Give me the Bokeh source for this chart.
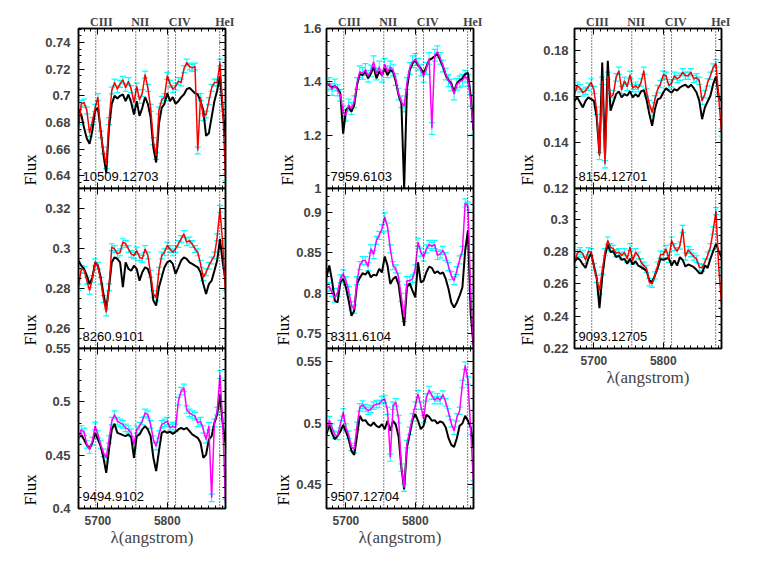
import numpy as np
from bokeh.plotting import figure
from bokeh.layouts import row, column
from bokeh.models import (Range1d, LinearAxis, FixedTicker, Span, Label, Whisker,
                          TeeHead, ColumnDataSource, Title)
from bokeh.embed import file_html
from bokeh.resources import INLINE

# ---------------- data ----------------
WAVE = [5672, 5676, 5680, 5684, 5688, 5692, 5696, 5700, 5704, 5708,
        5712, 5716, 5720, 5724, 5728, 5732, 5736, 5740, 5744, 5748,
        5752, 5756, 5760, 5764, 5768, 5772, 5776, 5780, 5784, 5788,
        5792, 5796, 5800, 5804, 5808, 5812, 5816, 5820, 5824, 5828,
        5832, 5836, 5840, 5844, 5848, 5852, 5856, 5860, 5864, 5868,
        5872, 5876, 5880, 5884]

XLIM = [5672, 5884]
XTICKS = [5700, 5800]
XTICK_LABELS = ["5700", "5800"]
LINES = [5696.9, 5754.6, 5801.3, 5812.0, 5875.6]
LINE_NAMES = ["CIII", "NII", "CIV", "HeI"]
LINE_NAME_AT = [5705, 5761, 5818, 5883]

# panel A : 10509.12703
A_FLUX = [0.676,0.694,0.695,0.689,0.672,0.681,0.691,0.699,0.671,0.659,
          0.648,0.681,0.704,0.710,0.705,0.709,0.712,0.706,0.711,0.705,
          0.695,0.707,0.697,0.702,0.716,0.706,0.691,0.666,0.655,0.689,
          0.697,0.699,0.715,0.709,0.705,0.707,0.711,0.710,0.720,0.725,
          0.722,0.721,0.722,0.659,0.699,0.684,0.686,0.696,0.706,0.710,
          0.710,0.725,0.691,0.639]
A_BLACK = [0.689,0.686,0.676,0.668,0.664,0.674,0.689,0.691,0.674,0.656,
           0.642,0.676,0.694,0.700,0.698,0.700,0.701,0.696,0.701,0.695,
           0.686,0.696,0.685,0.691,0.699,0.694,0.684,0.661,0.650,0.679,
           0.691,0.694,0.702,0.696,0.699,0.694,0.696,0.699,0.701,0.705,
           0.706,0.704,0.702,0.701,0.696,0.689,0.670,0.672,0.684,0.696,
           0.704,0.715,0.689,0.669]
A_ERR = 0.0026
A_YLIM = [0.6305, 0.7505]
A_YTICKS = [0.64, 0.66, 0.68, 0.70, 0.72, 0.74]
A_YLABELS = ["0.64", "0.66", "0.68", "0.7", "0.72", "0.74"]

# panel B : 8260.9101
B_FLUX = [0.2807,0.2899,0.2894,0.2840,0.2790,0.2849,0.2932,0.2915,0.2840,0.2748,
          0.2681,0.2807,0.3008,0.2999,0.2974,0.2982,0.3033,0.3024,0.2999,0.2974,
          0.2966,0.2991,0.2957,0.2949,0.2999,0.2966,0.2874,0.2773,0.2756,0.2890,
          0.2966,0.2982,0.3016,0.2999,0.2982,0.2999,0.3024,0.3049,0.3074,0.3033,
          0.3041,0.3024,0.2999,0.2982,0.2924,0.2857,0.2882,0.2915,0.2941,0.2966,
          0.3058,0.3200,0.3024,0.2773]
B_BLACK = [0.2941,0.2915,0.2899,0.2865,0.2823,0.2857,0.2932,0.2915,0.2857,0.2773,
           0.2698,0.2807,0.2932,0.2957,0.2949,0.2932,0.2807,0.2932,0.2899,0.2890,
           0.2915,0.2899,0.2840,0.2882,0.2907,0.2899,0.2857,0.2740,0.2715,0.2807,
           0.2857,0.2907,0.2932,0.2941,0.2924,0.2874,0.2907,0.2941,0.2957,0.2949,
           0.2932,0.2924,0.2915,0.2907,0.2882,0.2823,0.2773,0.2823,0.2840,0.2890,
           0.2941,0.3049,0.2932,0.2840]
B_ERR = 0.0017
B_YLIM = [0.25, 0.3302]
B_YTICKS = [0.26, 0.28, 0.30, 0.32]
B_YLABELS = ["0.26", "0.28", "0.3", "0.32"]

# panel C : 9494.9102
C_FLUX = [0.4647,0.4741,0.4719,0.4600,0.4553,0.4631,0.4772,0.4694,0.4600,0.4522,
          0.4475,0.4647,0.4819,0.4881,0.4819,0.4803,0.4788,0.4756,0.4741,0.4709,
          0.4600,0.4741,0.4772,0.4819,0.4897,0.4881,0.4788,0.4647,0.4584,0.4694,
          0.4788,0.4803,0.4819,0.4756,0.4772,0.4756,0.5006,0.5100,0.5131,0.4928,
          0.4897,0.4881,0.4866,0.4803,0.4819,0.4741,0.4647,0.4772,0.4100,0.4803,
          0.4913,0.5256,0.4803,0.4053]
C_BLACK = [0.4663,0.4688,0.4647,0.4594,0.4563,0.4616,0.4709,0.4647,0.4584,0.4475,
           0.4334,0.4553,0.4741,0.4794,0.4709,0.4700,0.4688,0.4678,0.4694,0.4669,
           0.4475,0.4678,0.4694,0.4741,0.4772,0.4741,0.4678,0.4475,0.4350,0.4538,
           0.4709,0.4725,0.4709,0.4719,0.4700,0.4719,0.4741,0.4756,0.4741,0.4756,
           0.4725,0.4694,0.4678,0.4663,0.4616,0.4475,0.4506,0.4647,0.4678,0.4803,
           0.4881,0.5069,0.4788,0.4616]
C_ERR = 0.0035
C_YLIM = [0.40, 0.55]
C_YTICKS = [0.40, 0.45, 0.50, 0.55]
C_YLABELS = ["0.4", "0.45", "0.5", "0.55"]

# panel D : 7959.6103
D_FLUX = [1.388,1.394,1.371,1.388,1.369,1.350,1.288,1.275,1.313,1.300,
          1.325,1.394,1.438,1.431,1.446,1.421,1.441,1.475,1.429,1.456,
          1.421,1.466,1.438,1.456,1.444,1.409,1.354,1.325,1.309,1.394,
          1.450,1.475,1.484,1.466,1.444,1.421,1.450,1.488,1.225,1.500,
          1.513,1.488,1.459,1.429,1.404,1.388,1.354,1.391,1.400,1.406,
          1.421,1.406,1.331,1.225]
D_BLACK = [1.394,1.388,1.379,1.384,1.375,1.356,1.206,1.294,1.306,1.288,
           1.313,1.388,1.429,1.425,1.438,1.413,1.431,1.456,1.413,1.438,
           1.425,1.450,1.425,1.444,1.438,1.400,1.350,1.319,1.000,1.375,
           1.444,1.469,1.481,1.463,1.450,1.431,1.456,1.481,1.488,1.496,
           1.506,1.481,1.456,1.425,1.406,1.394,1.363,1.394,1.406,1.413,
           1.429,1.434,1.344,1.219]
D_ERR = 0.022
D_YLIM = [1.0, 1.6]
D_YTICKS = [1.0, 1.2, 1.4, 1.6]
D_YLABELS = ["1", "1.2", "1.4", "1.6"]

# panel E : 8311.6104
E_FLUX = [0.8071,0.8079,0.8008,0.7938,0.8008,0.8175,0.8238,0.8154,0.8029,0.7842,
          0.7800,0.8154,0.8342,0.8404,0.8404,0.8329,0.8550,0.8479,0.8654,0.8717,
          0.8800,0.8946,0.8821,0.8550,0.8342,0.8300,0.8196,0.7946,0.7696,0.8154,
          0.8154,0.8175,0.8300,0.8633,0.8508,0.8446,0.8550,0.8604,0.8579,0.8604,
          0.8467,0.8487,0.8529,0.8454,0.8329,0.8217,0.8154,0.8279,0.8412,0.8529,
          0.9120,0.9080,0.7988,0.7321]
E_BLACK = [0.8196,0.8342,0.8154,0.7904,0.7883,0.8133,0.8175,0.8071,0.7904,0.7717,
           0.7779,0.8113,0.8188,0.8246,0.8229,0.8271,0.8196,0.8229,0.8217,0.8300,
           0.8258,0.8454,0.8342,0.8113,0.8175,0.8204,0.8104,0.7842,0.7592,0.8071,
           0.8121,0.8029,0.7946,0.8383,0.8133,0.8154,0.8258,0.8329,0.8313,0.8246,
           0.8271,0.8238,0.8258,0.8175,0.8050,0.7883,0.7821,0.7883,0.7967,0.8071,
           0.8529,0.8779,0.7737,0.7342]
E_ERR = 0.005
E_YLIM = [0.731, 0.930]
E_YTICKS = [0.75, 0.80, 0.85, 0.90]
E_YLABELS = ["0.75", "0.8", "0.85", "0.9"]

# panel F : 9507.12704
F_FLUX = [0.4932,0.5024,0.4965,0.4905,0.4897,0.4992,0.5086,0.4965,0.4905,0.4808,
          0.4789,0.4978,0.5127,0.5149,0.5122,0.5100,0.5114,0.5141,0.5154,0.5154,
          0.5186,0.5195,0.5100,0.4722,0.5141,0.5168,0.5032,0.4641,0.4478,0.4830,
          0.4938,0.5046,0.5141,0.5235,0.5141,0.5032,0.5208,0.5268,0.5222,0.5186,
          0.5208,0.5186,0.5230,0.5168,0.5086,0.4997,0.4938,0.5046,0.5100,0.5316,
          0.5465,0.5343,0.4938,0.4505]
F_BLACK = [0.4911,0.4986,0.4916,0.4870,0.4897,0.4932,0.4986,0.4932,0.4870,0.4776,
           0.4743,0.4897,0.5059,0.5019,0.5024,0.4992,0.4978,0.5005,0.4978,0.4965,
           0.4992,0.4951,0.5019,0.4938,0.5019,0.4986,0.4889,0.4641,0.4465,0.4803,
           0.4911,0.5024,0.5073,0.5019,0.4951,0.4978,0.5068,0.5051,0.5019,0.5024,
           0.4997,0.5014,0.5003,0.4965,0.4878,0.4824,0.4808,0.4878,0.4978,0.4997,
           0.5059,0.5019,0.4965,0.4803]
F_ERR = 0.003
F_YLIM = [0.431, 0.5603]
F_YTICKS = [0.45, 0.50, 0.55]
F_YLABELS = ["0.45", "0.5", "0.55"]

# panel G : 8154.12701
G_FLUX = [0.1611,0.1648,0.1637,0.1618,0.1626,0.1643,0.1662,0.1629,0.1539,0.1342,
          0.1669,0.1306,0.1691,0.1597,0.1611,0.1684,0.1713,0.1629,0.1669,0.1643,
          0.1695,0.1637,0.1648,0.1637,0.1662,0.1713,0.1618,0.1568,0.1531,0.1589,
          0.1633,0.1655,0.1695,0.1691,0.1648,0.1658,0.1691,0.1677,0.1687,0.1706,
          0.1691,0.1691,0.1706,0.1677,0.1684,0.1669,0.1582,0.1611,0.1662,0.1691,
          0.1727,0.1745,0.1597,0.1444]
G_BLACK = [0.1582,0.1597,0.1575,0.1553,0.1582,0.1597,0.1589,0.1582,0.1510,0.1350,
           0.1749,0.1335,0.1756,0.1539,0.1575,0.1611,0.1623,0.1597,0.1611,0.1604,
           0.1623,0.1597,0.1611,0.1600,0.1623,0.1629,0.1585,0.1524,0.1473,0.1546,
           0.1589,0.1594,0.1618,0.1637,0.1626,0.1618,0.1633,0.1626,0.1640,0.1647,
           0.1652,0.1640,0.1652,0.1637,0.1618,0.1582,0.1502,0.1553,0.1579,0.1604,
           0.1655,0.1687,0.1597,0.1582]
G_ERR = 0.0016
G_YLIM = [0.12, 0.1897]
G_YTICKS = [0.12, 0.14, 0.16, 0.18]
G_YLABELS = ["0.12", "0.14", "0.16", "0.18"]

# panel H : 9093.12705
H_FLUX = [0.2734,0.2790,0.2802,0.2786,0.2748,0.2802,0.2796,0.2703,0.2631,0.2559,
          0.2682,0.2796,0.2868,0.2827,0.2816,0.2790,0.2796,0.2775,0.2796,0.2755,
          0.2827,0.2744,0.2796,0.2775,0.2734,0.2713,0.2693,0.2610,0.2600,0.2652,
          0.2713,0.2781,0.2781,0.2816,0.2755,0.2868,0.2827,0.2802,0.2837,0.2940,
          0.2769,0.2810,0.2790,0.2769,0.2755,0.2703,0.2699,0.2734,0.2775,0.2827,
          0.2930,0.3050,0.2703,0.2476]
H_BLACK = [0.2734,0.2761,0.2748,0.2720,0.2699,0.2755,0.2790,0.2713,0.2637,0.2450,
           0.2641,0.2775,0.2843,0.2796,0.2802,0.2765,0.2775,0.2748,0.2755,0.2724,
           0.2755,0.2720,0.2740,0.2713,0.2703,0.2693,0.2678,0.2621,0.2610,0.2652,
           0.2699,0.2755,0.2748,0.2755,0.2761,0.2713,0.2744,0.2713,0.2765,0.2748,
           0.2707,0.2720,0.2713,0.2703,0.2687,0.2666,0.2666,0.2713,0.2699,0.2755,
           0.2802,0.2847,0.2802,0.2765]
H_ERR = 0.0022
H_YLIM = [0.22, 0.319]
H_YTICKS = [0.22, 0.24, 0.26, 0.28, 0.30]
H_YLABELS = ["0.22", "0.24", "0.26", "0.28", "0.3"]

RED = "#ff0000"
MAGENTA = "#ff00ff"
CYAN = "#00ffff"

SANS = "Liberation Sans"
SERIF = "Liberation Serif"
FRAME_W, FRAME_H = 147, 160
TOP_B, BOT_B = 28, 45
RIGHT_B = 31
OV = 10   # transparent overlap between stacked panels so edge tick labels are not cut


def minor_list(lo, hi, step):
    start = np.ceil(lo / step - 1e-6) * step
    return [float(round(v, 6)) for v in np.arange(start, hi + 1e-9, step)]


def tick_axis(ticks, minors, labels=None, font_size="12px", standoff=6):
    ax = LinearAxis(ticker=FixedTicker(ticks=ticks, minor_ticks=minors))
    ax.major_tick_in = 6
    ax.major_tick_out = 0
    ax.minor_tick_in = 3
    ax.minor_tick_out = 0
    ax.axis_line_width = 1.5
    ax.major_tick_line_width = 1
    ax.minor_tick_line_width = 1
    if labels is None:
        ax.major_label_text_color = None
        ax.major_label_text_font_size = "0px"
        ax.major_label_standoff = 0
    else:
        ax.major_label_overrides = {t: s for t, s in zip(ticks, labels)}
        ax.major_label_text_font = SANS
        ax.major_label_text_font_size = font_size
        ax.major_label_text_font_style = "bold"
        ax.major_label_standoff = standoff
    return ax


def make_panel(star, ylim, yticks, ylabels, ystep, flux, black, err, color,
               top=False, bottom=False, left_b=70, lab_standoff=8, flux_standoff=7):
    p = figure(frame_width=FRAME_W, frame_height=FRAME_H,
               x_range=Range1d(*XLIM), y_range=Range1d(*ylim),
               output_backend="svg", toolbar_location=None,
               x_axis_location=None, y_axis_location=None,
               min_border_left=left_b, min_border_right=RIGHT_B,
               min_border_top=TOP_B if top else OV,
               min_border_bottom=BOT_B if bottom else OV,
               outline_line_color="black", outline_line_width=1.5,
               background_fill_color="white", border_fill_color=None)
    if not top:
        p.margin = (-2 * OV, 0, 0, 0)
    p.grid.visible = False

    yminor = minor_list(ylim[0], ylim[1], ystep)
    xminor = minor_list(XLIM[0], XLIM[1], 10)

    p.add_layout(tick_axis(yticks, yminor, ylabels, font_size="13px",
                           standoff=lab_standoff), "left")
    p.add_layout(Title(text="Flux", align="left", offset=3, standoff=flux_standoff,
                       text_font=SERIF, text_font_size="17px",
                       text_font_style="normal", text_color="black"), "left")
    p.add_layout(tick_axis(yticks, yminor), "right")
    p.add_layout(tick_axis(XTICKS, xminor), "above")
    if top:
        lab = LinearAxis(ticker=FixedTicker(ticks=LINE_NAME_AT))
        lab.major_label_overrides = {t: s for t, s in zip(LINE_NAME_AT, LINE_NAMES)}
        lab.major_tick_in = 0
        lab.major_tick_out = 0
        lab.minor_tick_in = 0
        lab.minor_tick_out = 0
        lab.axis_line_color = None
        lab.major_tick_line_color = None
        lab.minor_tick_line_color = None
        lab.major_label_standoff = 0
        lab.major_label_text_font = SERIF
        lab.major_label_text_font_size = "12px"
        lab.major_label_text_font_style = "bold"
        p.add_layout(lab, "above")

    if bottom:
        b = tick_axis(XTICKS, xminor, XTICK_LABELS, standoff=7)
        b.axis_label = "\u03bb(angstrom)"
        b.axis_label_text_font = SERIF
        b.axis_label_text_font_size = "17px"
        b.axis_label_text_font_style = "normal"
        b.axis_label_standoff = 0
    else:
        b = tick_axis(XTICKS, xminor)
    p.add_layout(b, "below")

    for loc in LINES:
        p.add_layout(Span(location=loc, dimension="height", line_color="black",
                          line_dash="1 2", line_width=1))

    f = np.array(flux)
    src = ColumnDataSource(dict(x=WAVE, y=flux, b=black,
                                lo=list(f - err), hi=list(f + err)))
    p.line("x", "b", source=src, line_color="black", line_width=2)
    p.add_layout(Whisker(source=src, base="x", upper="hi", lower="lo",
                         dimension="height", line_color=CYAN, line_width=1,
                         upper_head=TeeHead(size=6, line_color=CYAN, line_width=1.2),
                         lower_head=TeeHead(size=6, line_color=CYAN, line_width=1.2)))
    p.line("x", "y", source=src, line_color=color, line_width=1.5)

    p.add_layout(Label(x=XLIM[0], y=ylim[0], x_offset=4, y_offset=8, text=star,
                       text_font=SANS, text_font_size="13px", text_color="black"))
    return p


pA = make_panel("10509.12703", A_YLIM, A_YTICKS, A_YLABELS, 0.005, A_FLUX, A_BLACK, A_ERR, RED,
                top=True, left_b=78, lab_standoff=8, flux_standoff=6)
pB = make_panel("8260.9101", B_YLIM, B_YTICKS, B_YLABELS, 0.005, B_FLUX, B_BLACK, B_ERR, RED,
                left_b=78, lab_standoff=8, flux_standoff=6)
pC = make_panel("9494.9102", C_YLIM, C_YTICKS, C_YLABELS, 0.01, C_FLUX, C_BLACK, C_ERR, MAGENTA,
                bottom=True, left_b=78, lab_standoff=8, flux_standoff=6)
pD = make_panel("7959.6103", D_YLIM, D_YTICKS, D_YLABELS, 0.05, D_FLUX, D_BLACK, D_ERR, MAGENTA,
                top=True, lab_standoff=5, flux_standoff=8)
pE = make_panel("8311.6104", E_YLIM, E_YTICKS, E_YLABELS, 0.01, E_FLUX, E_BLACK, E_ERR, MAGENTA,
                lab_standoff=5, flux_standoff=1)
pF = make_panel("9507.12704", F_YLIM, F_YTICKS, F_YLABELS, 0.01, F_FLUX, F_BLACK, F_ERR, MAGENTA,
                bottom=True, lab_standoff=5, flux_standoff=1)
pG = make_panel("8154.12701", G_YLIM, G_YTICKS, G_YLABELS, 0.005, G_FLUX, G_BLACK, G_ERR, RED,
                top=True, lab_standoff=6, flux_standoff=8)
pH = make_panel("9093.12705", H_YLIM, H_YTICKS, H_YLABELS, 0.005, H_FLUX, H_BLACK, H_ERR, RED,
                bottom=True, lab_standoff=6, flux_standoff=8)

layout = row(column(pA, pB, pC, spacing=0),
             column(pD, pE, pF, spacing=0),
             column(pG, pH, spacing=0), spacing=0)

open("out.html", "w").write(file_html(layout, INLINE))
